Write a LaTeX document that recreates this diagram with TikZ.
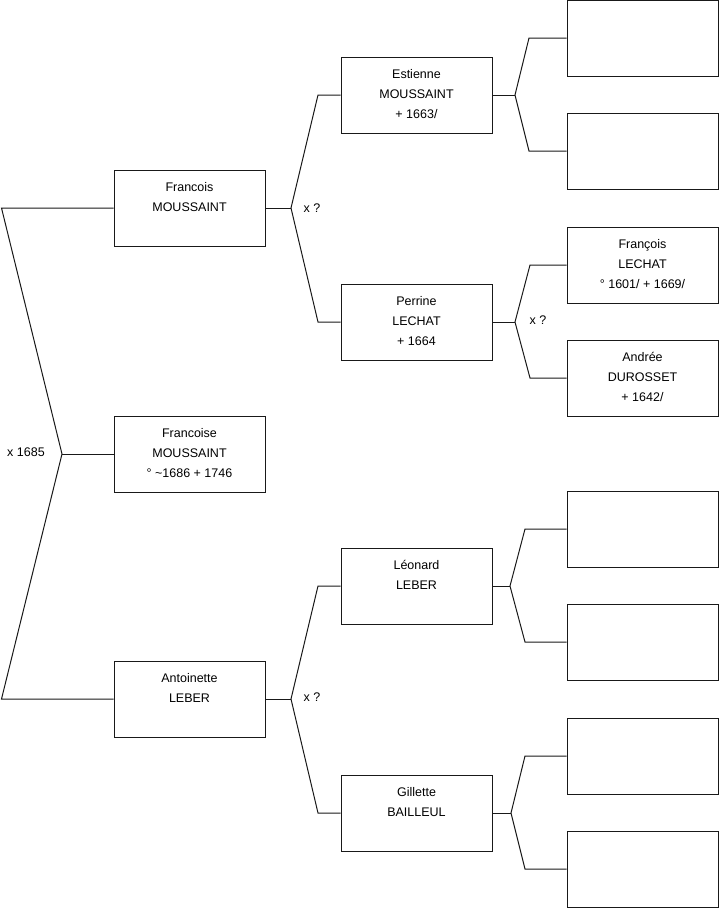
\documentclass[tikz,border=0pt]{standalone}
\usepackage{fontspec}
\setmainfont{Liberation Sans}
\newcommand\firstln{\rule{0pt}{11pt}}
\begin{document}
\begin{tikzpicture}[x=1pt,y=-1pt,
 person/.style={draw=black!90, line width=1pt, minimum width=151pt, minimum height=76pt, inner sep=0pt},
 ptext/.style={anchor=north, align=center, font=\fontsize{12.5}{20}\selectfont, inner sep=0pt},
 link/.style={line width=1pt, draw=black!90},
 lbl/.style={font=\fontsize{12.5}{15}\selectfont, inner sep=0pt}]
\useasboundingbox (0,0) rectangle (719,908);
% boxes
\node[person] (f1) at (189.5,208) {};
\node[person] (f2) at (189.5,454) {};
\node[person] (a1) at (189.5,699) {};
\node[person] (e1) at (416.5,95) {};
\node[person] (p1) at (416.5,322) {};
\node[person] (l1) at (416.5,586) {};
\node[person] (g1) at (416.5,813) {};
\node[person] (r1) at (642.5,38) {};
\node[person] (r2) at (642.5,151) {};
\node[person] (r3) at (642.5,265) {};
\node[person] (r4) at (642.5,378) {};
\node[person] (r5) at (642.5,529) {};
\node[person] (r6) at (642.5,642) {};
\node[person] (r7) at (642.5,756) {};
\node[person] (r8) at (642.5,869) {};
% texts
\node[ptext] (tf1) at ([yshift=-10.5pt]f1.north) {\firstln Francois\\MOUSSAINT};
\node[ptext] (tf2) at ([yshift=-10.5pt]f2.north) {\firstln Francoise\\MOUSSAINT\\° \textasciitilde1686 + 1746};
\node[ptext] (ta1) at ([yshift=-10.5pt]a1.north) {\firstln Antoinette\\LEBER};
\node[ptext] (te1) at ([yshift=-10.5pt]e1.north) {\firstln Estienne\\MOUSSAINT\\+ 1663/};
\node[ptext] (tp1) at ([yshift=-10.5pt]p1.north) {\firstln Perrine\\LECHAT\\+ 1664};
\node[ptext] (tl1) at ([yshift=-10.5pt]l1.north) {\firstln Léonard\\LEBER};
\node[ptext] (tg1) at ([yshift=-10.5pt]g1.north) {\firstln Gillette\\BAILLEUL};
\node[ptext] (tr3) at ([yshift=-10.5pt]r3.north) {\firstln François\\LECHAT\\° 1601/ + 1669/};
\node[ptext] (tr4) at ([yshift=-10.5pt]r4.north) {\firstln Andrée\\DUROSSET\\+ 1642/};
% fork points
\coordinate (rv) at (62,454);
\coordinate (rA) at (1.5,208);
\coordinate (rB) at (1.5,699);
\coordinate (fv) at (291,208);
\coordinate (fA) at (318,95);
\coordinate (fB) at (318,322);
\coordinate (ev) at (515,95);
\coordinate (eA) at (529,38);
\coordinate (eB) at (529,151);
\coordinate (pv) at (515,322);
\coordinate (pA) at (530,265);
\coordinate (pB) at (530,378);
\coordinate (av) at (291,699);
\coordinate (aA) at (318,586);
\coordinate (aB) at (318,813);
\coordinate (lv) at (510,586);
\coordinate (lA) at (525,529);
\coordinate (lB) at (525,642);
\coordinate (gv) at (511,813);
\coordinate (gA) at (525,756);
\coordinate (gB) at (525,869);
% connectors
\draw[link] (f1.west) -- (rA) -- (rv) -- (rB) -- (a1.west);
\draw[link] (rv) -- (f2.west);
\draw[link] (f1.east) -- (fv);
\draw[link] (e1.west) -- (fA) -- (fv) -- (fB) -- (p1.west);
\draw[link] (e1.east) -- (ev);
\draw[link] (r1.west) -- (eA) -- (ev) -- (eB) -- (r2.west);
\draw[link] (p1.east) -- (pv);
\draw[link] (r3.west) -- (pA) -- (pv) -- (pB) -- (r4.west);
\draw[link] (a1.east) -- (av);
\draw[link] (l1.west) -- (aA) -- (av) -- (aB) -- (g1.west);
\draw[link] (l1.east) -- (lv);
\draw[link] (r5.west) -- (lA) -- (lv) -- (lB) -- (r6.west);
\draw[link] (g1.east) -- (gv);
\draw[link] (r7.west) -- (gA) -- (gv) -- (gB) -- (r8.west);
% marriage labels
\node[lbl] (m0) at (26,452) {x 1685};
\node[lbl] (m1) at (312,208) {x ?};
\node[lbl] (m2) at (538,320) {x ?};
\node[lbl] (m3) at (312,697) {x ?};
\end{tikzpicture}
\end{document}
